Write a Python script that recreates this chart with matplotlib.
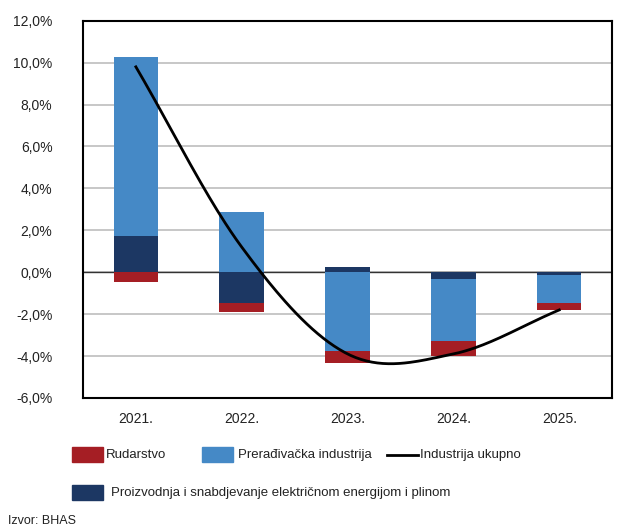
import numpy as np
import matplotlib.pyplot as plt
from matplotlib.patches import Rectangle
from matplotlib.lines import Line2D

plt.rcParams['font.family'] = ['Liberation Sans', 'DejaVu Sans']

years = ['2021.', '2022.', '2023.', '2024.', '2025.']
rudarstvo = [-0.49, -0.39, -0.60, -0.70, -0.33]
preradjivacka = [8.55, 2.86, -3.75, -2.97, -1.34]
energija = [1.74, -1.49, 0.24, -0.33, -0.14]
ukupno = [9.8, 1.2, -3.9, -3.9, -1.8]

c_red = '#a51e24'
c_blue = '#4589c6'
c_navy = '#1c3763'

def smooth(y, n=40):
    # catmull-rom, close to excel "smoothed line"
    y = np.asarray(y, dtype=float)
    p = np.concatenate([[2 * y[0] - y[1]], y, [2 * y[-1] - y[-2]]])
    xs, ys = [], []
    for i in range(len(y) - 1):
        p0, p1, p2, p3 = p[i], p[i + 1], p[i + 2], p[i + 3]
        t = np.linspace(0, 1, n)
        v = 0.5 * ((2 * p1) + (-p0 + p2) * t + (2 * p0 - 5 * p1 + 4 * p2 - p3) * t ** 2
                   + (-p0 + 3 * p1 - 3 * p2 + p3) * t ** 3)
        xs.append(i + t)
        ys.append(v)
    return np.concatenate(xs), np.concatenate(ys)

fig = plt.figure(figsize=(6.19, 5.32), dpi=100)
ax = fig.add_axes([0.134, 0.252, 0.855, 0.709])

x = np.arange(len(years))
w = 0.42
pos = np.zeros(len(x))
neg = np.zeros(len(x))
for vals, col in [(energija, c_navy), (preradjivacka, c_blue), (rudarstvo, c_red)]:
    vals = np.array(vals)
    base = np.where(vals >= 0, pos, neg)
    ax.bar(x, vals, w, bottom=base, color=col, zorder=3)
    pos = np.where(vals >= 0, pos + vals, pos)
    neg = np.where(vals < 0, neg + vals, neg)

sx, sy = smooth(ukupno)
ax.plot(sx, sy, color='black', lw=2, zorder=4)

ax.set_xlim(-0.5, 4.5)
ax.set_ylim(-6, 12)
ax.set_yticks(np.arange(-6, 13, 2))
ax.set_yticklabels([f'{v:.1f}%'.replace('.', ',') for v in np.arange(-6, 13, 2)])
ax.set_xticks(x)
ax.set_xticklabels(years)
ax.tick_params(length=0, labelsize=10, colors='#222222')
ax.tick_params(axis='y', pad=22)
ax.tick_params(axis='x', pad=10)
ax.grid(axis='y', color='#bdbdbd', lw=1.2, zorder=0)
ax.axhline(0, color='#333333', lw=1, zorder=2)
for s in ax.spines.values():
    s.set_linewidth(1.5)
    s.set_color('black')

# legend drawn by hand, two rows like the original
W, H = 619, 532
def fx(px):
    return px / W
def fy(py):
    return 1 - py / H

items = [(72, 447, c_red, 'Rudarstvo', 106),
         (202, 447, c_blue, 'Prerađivačka industrija', 238),
         (72, 485, c_navy, 'Proizvodnja i snabdjevanje električnom energijom i plinom', 111)]
for px, py, col, lab, tx in items:
    fig.patches.append(Rectangle((fx(px), fy(py + 15)), fx(31), 15 / H,
                                 transform=fig.transFigure, color=col))
    fig.text(fx(tx), fy(py + 8), lab, fontsize=9.5, va='center', color='#222222')
fig.lines.append(Line2D([fx(387), fx(418)], [fy(455), fy(455)], color='black', lw=2,
                        transform=fig.transFigure))
fig.text(fx(420), fy(455), 'Industrija ukupno', fontsize=9.5, va='center', color='#222222')
fig.text(fx(8), fy(521), 'Izvor: BHAS', fontsize=9, va='center', color='#222222')

fig.savefig('out.png', dpi=100)
